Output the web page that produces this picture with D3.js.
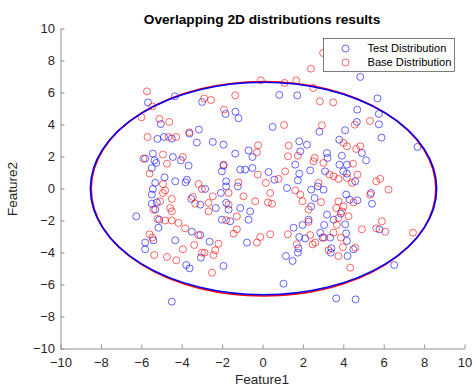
<!DOCTYPE html>
<head>
<meta charset="utf-8">
<style>
body { margin: 0; background: #fff; }
svg text { font-family: "Liberation Sans", Arial, sans-serif; fill: #262626; }
svg .domain { stroke: #8f8f8f; stroke-width: 1px; }
svg .tick line { stroke: #8f8f8f; }
</style>
</head>
<body>
<script src="https://d3js.org/d3.v7.min.js"></script>
<script>
  // axis range and ticks
  var xDomain = [-10, 10];
  var yDomain = [-10, 10];
  var xTicks = [-10, -8, -6, -4, -2, 0, 2, 4, 6, 8, 10];
  var yTicks = [-10, -8, -6, -4, -2, 0, 2, 4, 6, 8, 10];

  // Test Distribution (blue) points
  var testX = [-5.67, -4.34, -5.03, -2.99, -1.83, -3.15, -3.61, -5.20, -4.88, -4.49, -3.25, -2.46, -1.93,
    0.83, 1.72, -1.34, -1.19, 0.50, 2.82, 1.82, 2.20,
    4.84, 5.69, 4.69, 5.76, 4.67, 5.76, 4.09, 5.89, 3.80,
    -5.43, -5.81, -5.35, -5.26, -4.44, -4.04, -3.66, -5.48, -2.01, -1.93, -4.85, -5.31, -4.32, -3.74, -3.81,
    -5.43, -5.48, -2.84, -1.80, -1.80, -2.06, -5.23, -5.48, -3.53, -3.08, -2.31, -1.80, -1.68, -5.31, -6.25, -5.11, -2.01,
    -1.35, -0.69, -0.50, -1.10, -0.86, -0.50, 0.30, 0.59, 1.87, 1.62, 1.82, 1.75, 2.36, -1.22, 1.21, 2.41, 2.74, 2.58,
    -1.10, -0.61, -0.69, 2.41, 2.28, -1.60,
    7.67, 3.19, 3.22, 3.93, 4.92, 5.13, 3.81, 4.18, 3.10, 4.00, 4.18, 4.59, 3.02, 5.37, 5.42, 4.14, 4.31, 4.70, 3.19, 3.52, 3.88,
    -5.15, -5.81, -5.81, -5.40, -4.32, -3.50, -3.08, -2.62, -3.05, -3.78, -3.61, -1.93, -4.49,
    -0.77, 1.04, 1.54, 1.98, 1.82, 2.11, 1.78, 1.75, 1.16, 1.49, 2.86, 2.97,
    3.05, 4.09, 3.35, 4.14, 4.18, 3.41, 3.38, 4.50, 4.21, 5.79, 6.52, 3.65, 4.61];
  var testY = [5.38, 5.76, 4.03, 5.41, 4.66, 3.68, 3.43, 3.10, 3.22, 3.12, 2.87, 2.91, 2.74,
    5.85, 5.82, 4.80, 4.39, 3.85, 3.55, 2.95, 2.74,
    6.97, 5.63, 4.93, 4.66, 4.16, 4.01, 3.64, 3.18, 3.05,
    2.18, 1.87, 1.76, 1.60, 1.97, 1.76, 1.43, 1.28, 1.07, 1.43, 0.70, 0.35, 0.45, 0.55, 0.38,
    -0.03, -0.38, -0.03, 0.45, 0.13, -0.28, -0.87, -0.95, -0.65, -1.01, -1.22, -0.90, -1.32, -1.32, -1.74, -1.95, -1.95,
    2.18, 2.38, 1.97, 1.18, 1.18, 1.28, 1.03, 0.55, 2.32, 1.49, 0.93, 0.51, 1.13, 0.13, 0.03, -0.07, 0.13, -0.59,
    -1.22, -1.43, -1.95, -1.12, -1.95, -2.05,
    2.60, 2.22, 1.91, 2.05, 2.22, 1.76, 1.49, 1.49, 1.07, 1.07, 0.93, 0.45, -0.07, -0.28, -0.95, -0.38, -0.70, -0.74, -1.63, -1.95, -1.57,
    -2.45, -3.38, -3.80, -3.24, -3.24, -2.70, -2.91, -3.32, -4.32, -4.78, -4.99, -4.84, -7.07,
    -3.38, -5.95, -2.45, -2.28, -3.03, -3.12, -3.74, -4.01, -4.22, -4.53, -2.76, -3.07,
    -2.28, -2.24, -3.07, -2.80, -3.28, -3.74, -4.01, -3.80, -4.22, -2.55, -4.78, -6.87, -6.93];

  // Base Distribution (red) points
  var baseX = [-5.72, -5.45, -5.99, -5.10, -4.62, -2.89, -2.55, -1.90, -5.69, -4.65, -4.27, -3.63,
    -0.08, 1.09, 1.67, 2.40, 2.52, -1.35, 2.84, 1.07, 2.94, -0.22, 1.29,
    3.50, 5.32, 4.57, 3.00,
    -5.89, -4.93, -4.73, -3.94, -5.59, -1.93, -4.93, -4.82, -4.93, -3.17, -3.00, -4.49, -5.07, -3.45, -3.33, -2.67, -2.46,
    -2.67, -4.57, -4.49, -5.40, -5.20, -4.82, -4.49, -4.16, -1.80,
    -0.28, 1.26, 1.75, 2.58, 2.52, -0.23, 1.12, 0.79, 0.17, 0.38, -1.19, -0.94, -1.68, 0.27, 0.47, 1.62, 1.87, 1.98, 2.28,
    2.77, 2.90, -1.68, -1.27, -0.36, 2.28,
    4.01, 4.18, 4.64, 4.84, 4.48, 3.02, 3.32, 3.52, 3.76, 4.18, 4.70, 4.43, 5.63, 5.83, 6.24, 5.33, 3.76, 4.01, 4.51,
    3.65, 3.93, 4.26, 3.76, 5.91,
    -3.83, -5.59, -5.45, -3.17, -3.94, -3.38, -3.00, -2.87, -2.18, -2.34, -2.43, -5.36, -4.73, -4.27, -2.50,
    -1.27, -1.43, -0.28, -0.11, 0.38, 1.26, 1.70, 2.36, 2.48, 2.61,
    3.68, 3.88, 3.52, 3.05, 3.27, 3.76, 3.98, 4.59, 4.92, 5.63, 6.08, 7.45, 4.34];
  var baseY = [6.07, 5.13, 4.45, 4.35, 4.16, 5.63, 5.53, 4.93, 3.22, 3.22, 3.22, 3.51,
    6.76, 6.60, 6.76, 7.49, 6.28, 5.82, 5.45, 3.97, 3.95, 2.70, 2.68,
    5.38, 4.22, 3.99, 8.47,
    1.87, 2.12, 1.55, 1.97, 0.93, 1.49, 0.28, -0.12, -0.28, 0.28, -0.03, -0.65, -0.80, -0.53, -0.95, -0.90, -0.49,
    -1.43, -1.22, -1.43, -1.32, -1.90, -2.00, -2.00, -2.15, -1.98,
    2.26, 2.01, 2.05, 1.91, 1.70, 0.87, 1.07, 0.60, 0.35, -0.28, 0.38, -0.49, -0.28, -0.87, -0.95, -0.12, -0.38, -0.80, -1.32,
    0.35, -0.85, -1.01, -1.74, -0.80, -2.08,
    2.85, 2.64, 2.47, 2.64, 1.55, 1.60, 0.87, 0.76, 0.60, 0.66, 0.87, 0.35, 0.45, 0.60, -0.07, -0.38, -0.80, -1.12, -0.87,
    -1.22, -1.43, -1.74, -1.84, -2.05,
    -2.49, -2.86, -3.07, -2.91, -3.80, -3.53, -4.01, -4.01, -3.45, -3.86, -4.16, -4.16, -4.28, -4.49, -5.26,
    -2.55, -2.82, -3.38, -3.03, -2.86, -2.86, -3.49, -2.91, -3.49, -3.38,
    -2.28, -3.07, -2.76, -3.07, -3.86, -4.22, -3.66, -3.70, -2.55, -2.49, -2.70, -2.76, -4.95];

  // fitted boundary ellipses: centre and semi-axes, in data units
  var ellipseNames = ["Base Distribution", "Test Distribution"];
  var ellipseCx = [0.05, 0.05];
  var ellipseCy = [-0.02, 0.0];
  var ellipseA = [8.53, 8.57];
  var ellipseB = [6.70, 6.64];
  var ellipseColors = ["#ff0000", "#0000ff"];

  var seriesNames = ["Test Distribution", "Base Distribution"];
  var seriesColors = ["#0000ff", "#ff0000"];

  var width = 474, height = 389;

  var svg = d3.select("body")
    .append("svg")
      .attr("width", width)
      .attr("height", height);

  var xScale = d3.scaleLinear().domain(xDomain).range([60.5, 464.5]);
  var yScale = d3.scaleLinear().domain(yDomain).range([348.5, 28.5]);

  function tickFmt(d) { return d < 0 ? "\u2212" + Math.abs(d) : d; }

  // x axis, ticks pointing inward
  var xAxis = d3.axisBottom(xScale)
    .tickValues(xTicks)
    .tickSizeInner(-4)
    .tickSizeOuter(0)
    .tickPadding(9)
    .tickFormat(tickFmt);

  svg.append("g")
      .attr("class", "x-axis")
      .attr("transform", "translate(0," + yScale(yDomain[0]) + ")")
      .call(xAxis)
    .selectAll("text")
      .style("font-size", "13px")
      .style("fill", "#262626");

  // y axis
  var yAxis = d3.axisLeft(yScale)
    .tickValues(yTicks)
    .tickSizeInner(-4)
    .tickSizeOuter(0)
    .tickPadding(5.5)
    .tickFormat(tickFmt);

  svg.append("g")
      .attr("class", "y-axis")
      .attr("transform", "translate(" + xScale(xDomain[0]) + ",0)")
      .call(yAxis)
    .selectAll("text")
      .style("font-size", "13px")
      .style("fill", "#262626");

  // points
  var testData = testX.map(function (d, i) { return { x: d, y: testY[i] }; });
  var baseData = baseX.map(function (d, i) { return { x: d, y: baseY[i] }; });

  svg.append("g").selectAll("circle")
    .data(testData)
    .enter().append("circle")
      .attr("cx", function (d) { return xScale(d.x); })
      .attr("cy", function (d) { return yScale(d.y); })
      .attr("r", 3.5)
      .style("fill", "none")
      .style("stroke", seriesColors[0])
      .style("stroke-opacity", 0.6)
      .style("stroke-width", 1);

  svg.append("g").selectAll("circle")
    .data(baseData)
    .enter().append("circle")
      .attr("cx", function (d) { return xScale(d.x); })
      .attr("cy", function (d) { return yScale(d.y); })
      .attr("r", 3.5)
      .style("fill", "none")
      .style("stroke", seriesColors[1])
      .style("stroke-opacity", 0.6)
      .style("stroke-width", 1);

  // boundary ellipses
  svg.append("g").selectAll("ellipse")
    .data(ellipseNames)
    .enter().append("ellipse")
      .attr("cx", function (d, i) { return xScale(ellipseCx[i]); })
      .attr("cy", function (d, i) { return yScale(ellipseCy[i]); })
      .attr("rx", function (d, i) { return xScale(ellipseA[i]) - xScale(0); })
      .attr("ry", function (d, i) { return yScale(0) - yScale(ellipseB[i]); })
      .style("fill", "none")
      .style("stroke", function (d, i) { return ellipseColors[i]; })
      .style("stroke-width", 1.6);

  // title and axis labels
  svg.append("text")
    .attr("x", 262)
    .attr("y", 23.5)
    .text("Overlapping 2D distributions results")
    .style("text-anchor", "middle")
    .style("font-size", "13.7px")
    .style("font-weight", "bold")
    .style("fill", "#000");

  svg.append("text")
    .attr("x", 262)
    .attr("y", 384)
    .text("Feature1")
    .style("text-anchor", "middle")
    .style("font-size", "13.5px");

  svg.append("text")
    .attr("transform", "translate(17,189) rotate(-90)")
    .text("Feature2")
    .style("text-anchor", "middle")
    .style("font-size", "13.5px");

  // legend
  var legend = svg.append("g").attr("transform", "translate(323.5,38.5)");

  legend.append("rect")
    .attr("width", 131)
    .attr("height", 33)
    .style("fill", "#fff")
    .style("stroke", "#262626")
    .style("stroke-width", 0.6);

  var rows = legend.selectAll("g.row")
    .data(seriesNames)
    .enter().append("g")
      .attr("class", "row")
      .attr("transform", function (d, i) { return "translate(0," + (10 + i * 14) + ")"; });

  rows.append("circle")
    .attr("cx", 22)
    .attr("r", 3.5)
    .style("fill", "none")
    .style("stroke", function (d, i) { return seriesColors[i]; })
    .style("stroke-opacity", 0.6);

  rows.append("text")
    .attr("x", 44)
    .attr("dy", "0.35em")
    .text(function (d) { return d; })
    .style("font-size", "11.1px")
    .style("fill", "#000");
</script>
</body>
</html>
